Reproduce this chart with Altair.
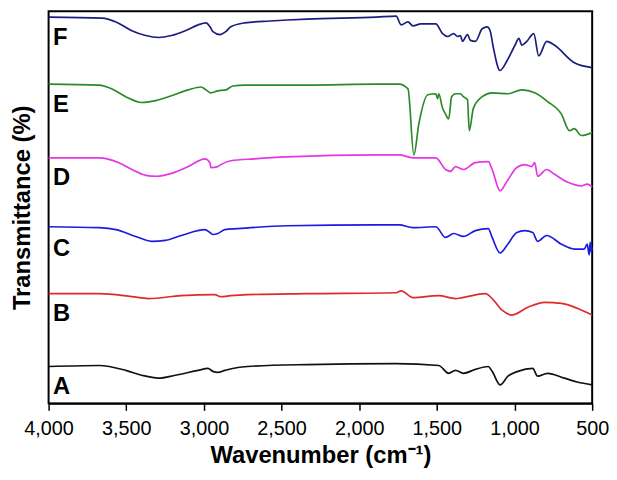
import altair as alt
import pandas as pd

# ---- data (wavenumber cm-1, transmittance a.u. incl. stacking offset) ----
F_wn = [4000, 3656, 3566, 3464, 3375, 3292, 3209, 3120, 3037, 2986, 2961, 2942, 2897, 2859, 2827, 2738, 2572, 2464, 2336, 1890, 1762, 1730, 1686, 1654, 1603, 1507, 1463, 1431, 1392, 1367, 1348, 1335, 1303, 1284, 1252, 1208, 1176, 1157, 1138, 1093, 1048, 997, 972, 953, 921, 876, 844, 793, 742, 615, 500]
F_t = [398, 397, 393, 384, 379, 377, 379, 384, 390, 392, 388, 383, 380, 383, 388, 392, 394, 395, 396, 398, 399, 390, 393, 389, 391, 391, 381, 378, 381, 378, 379, 373, 380, 374, 373, 386, 388, 384, 368, 343, 353, 369, 376, 369, 373, 381, 358, 373, 369, 351, 346]

E_wn = [4000, 3675, 3592, 3503, 3401, 3311, 3209, 3101, 3018, 2986, 2955, 2910, 2859, 2814, 2738, 2336, 1890, 1743, 1686, 1648, 1616, 1558, 1507, 1495, 1488, 1463, 1444, 1424, 1405, 1380, 1348, 1329, 1303, 1291, 1265, 1208, 1144, 1042, 953, 870, 787, 698, 646, 615, 570, 500]
E_t = [329, 328, 324, 316, 310, 312, 317, 323, 326, 323, 320, 322, 323, 327, 328, 328, 329, 329, 324, 256, 288, 318, 319, 314, 319, 304, 298, 293, 316, 319, 319, 316, 313, 281, 304, 316, 320, 319, 323, 320, 311, 298, 281, 283, 276, 279]

D_wn = [4000, 3675, 3547, 3464, 3375, 3305, 3209, 3101, 2993, 2961, 2955, 2910, 2891, 2827, 2674, 2464, 1890, 1743, 1654, 1507, 1444, 1412, 1380, 1329, 1252, 1169, 1144, 1093, 1048, 985, 934, 889, 870, 851, 793, 742, 659, 570, 532, 500]
D_t = [253, 253, 248, 241, 235, 234, 237, 244, 252, 248, 243, 244, 246, 250, 252, 254, 256, 256, 253, 253, 241, 239, 244, 241, 248, 249, 241, 219, 229, 243, 246, 244, 248, 234, 241, 236, 228, 224, 226, 223]

C_wn = [4000, 3675, 3566, 3439, 3337, 3248, 3146, 2993, 2961, 2942, 2910, 2865, 2782, 2464, 1890, 1743, 1654, 1507, 1444, 1392, 1329, 1252, 1169, 1144, 1093, 1048, 985, 934, 883, 851, 793, 698, 615, 551, 532, 519, 513, 506, 500]
C_t = [182, 181, 179, 172, 167, 168, 173, 179, 176, 174, 175, 179, 180, 183, 184, 184, 181, 182, 171, 175, 172, 178, 180, 171, 155, 163, 176, 178, 176, 167, 173, 164, 159, 159, 164, 153, 166, 156, 161]

B_wn = [4000, 3675, 3464, 3356, 3146, 2929, 2891, 2827, 2719, 2336, 1762, 1730, 1654, 1488, 1380, 1335, 1189, 1144, 1080, 1016, 914, 806, 698, 596, 500]
B_t = [113, 113, 110, 108, 111, 112, 110, 111, 112, 113, 114, 116, 109, 111, 108, 109, 113, 108, 96, 91, 99, 104, 103, 98, 91]

A_wn = [4000, 3675, 3503, 3401, 3292, 3184, 3037, 2974, 2942, 2910, 2865, 2782, 2719, 2336, 1762, 1488, 1424, 1380, 1329, 1252, 1169, 1144, 1093, 1042, 978, 883, 851, 787, 679, 596, 500]
A_t = [38, 39, 34, 29, 26, 29, 34, 36, 33, 32, 34, 37, 38, 40, 41, 39, 31, 34, 31, 35, 38, 33, 19, 28, 33, 36, 28, 31, 26, 22, 19]

series_names = ["A", "B", "C", "D", "E", "F"]
series_colors = ["#111111", "#e02a2a", "#1c1ce0", "#e535e5", "#2a8a2a", "#1c1c80"]
label_wn = [3972, 3972, 3972, 3972, 3972, 3972]
label_t = [17, 92, 159, 232, 307, 376]

x_ticks = [4000, 3750, 3500, 3250, 3000, 2750, 2500, 2250, 2000, 1750, 1500, 1250, 1000, 750, 500]

# ---- build tables ----
rows = []
for name, wn, t in [("A", A_wn, A_t), ("B", B_wn, B_t), ("C", C_wn, C_t),
                    ("D", D_wn, D_t), ("E", E_wn, E_t), ("F", F_wn, F_t)]:
    for i, (w, v) in enumerate(zip(wn, t)):
        rows.append({"series": name, "wn": w, "t": v, "order": i})
df = pd.DataFrame(rows)
labels = pd.DataFrame({"series": series_names, "wn": label_wn, "t": label_t})

xscale = alt.Scale(domain=[500, 4000], reverse=True, nice=False, zero=False)
yscale = alt.Scale(domain=[0, 404], nice=False, zero=False)

lines = alt.Chart(df).mark_line(strokeWidth=1.7, interpolate="monotone").encode(
    x=alt.X("wn:Q", scale=xscale, title="Wavenumber (cm\u207b\u00b9)",
            axis=alt.Axis(values=x_ticks,
                          labelExpr="datum.value % 500 === 0 ? format(datum.value, ',') : ''",
                          tickSize={"condition": {"test": "datum.value % 500 === 0", "value": 7}, "value": 5},
                          tickColor="black", tickWidth=1.5, domainColor="black", domainWidth=2,
                          labelFont="Liberation Sans", labelFontSize=20, labelColor="black",
                          labelPadding=8, labelFlush=False, labelOverlap=False,
                          titleFont="Liberation Sans", titleFontSize=24, titleFontWeight="bold",
                          titleColor="black", titlePadding=6, grid=False)),
    y=alt.Y("t:Q", scale=yscale, title="Transmittance (%)",
            axis=alt.Axis(labels=False, ticks=False, domain=False, grid=False,
                          titleFont="Liberation Sans", titleFontSize=24, titleFontWeight="bold",
                          titleColor="black", titlePadding=14)),
    color=alt.Color("series:N", scale=alt.Scale(domain=series_names, range=series_colors), legend=None),
    order="order:Q",
)

text = alt.Chart(labels).mark_text(
    align="left", baseline="middle", font="Liberation Sans", fontSize=24,
    fontWeight="bold", color="black"
).encode(
    x=alt.X("wn:Q", scale=xscale),
    y=alt.Y("t:Q", scale=yscale),
    text="series:N",
)

chart = alt.layer(lines, text).properties(
    width=549, height=396,
    background="white",
    autosize=alt.AutoSizeParams(type="none"),
    padding={"left": 41, "top": 1, "right": 17, "bottom": 67},
).configure_view(stroke="black", strokeWidth=2)

chart.save("out.html", embed_options={"renderer": "svg", "actions": False})
